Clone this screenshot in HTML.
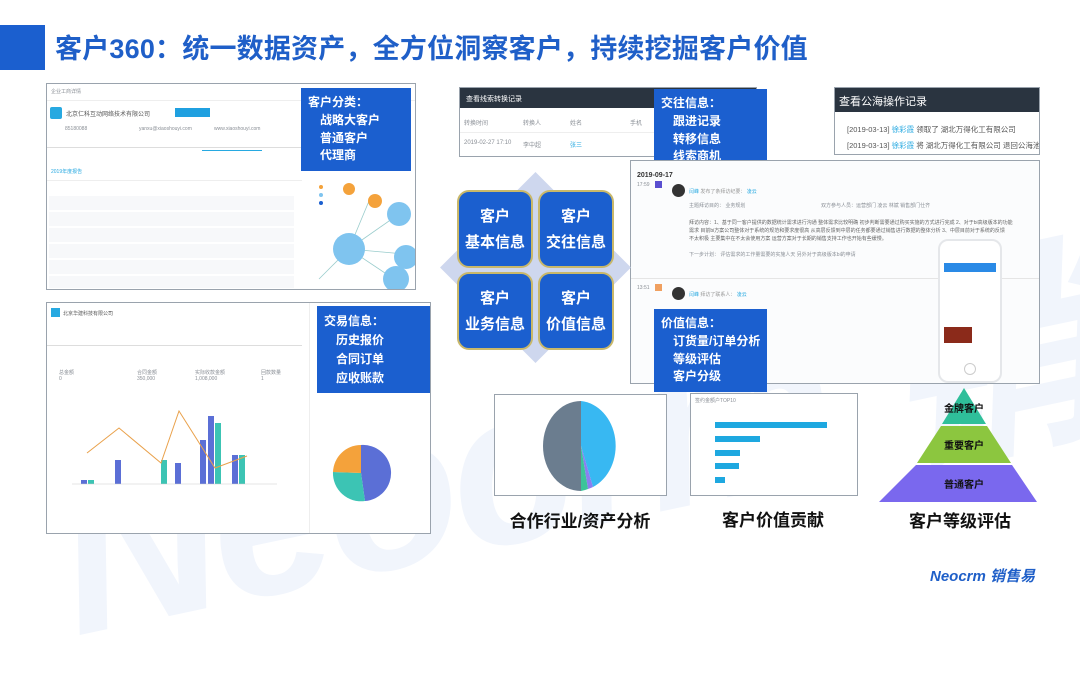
<!DOCTYPE html>
<html><head><meta charset="utf-8"><style>
*{margin:0;padding:0;box-sizing:border-box}
html,body{width:1080px;height:607px}
body{position:relative;overflow:hidden;background:#fff;font-family:"Liberation Sans","Noto Sans CJK SC",sans-serif}
.a{position:absolute}
.panel{position:absolute;background:#fff;border:1px solid #9aa3ad;overflow:hidden}
.blue{position:absolute;background:#1b5fcf;color:#fff;font-weight:bold;font-size:12px;line-height:18px;padding:5px 7px;white-space:nowrap;overflow:hidden}
.blue div{padding-left:12px}
.blue div.h{padding-left:0}
.sm{position:absolute;font-size:5px;color:#8a8f96;white-space:nowrap}
.q{position:absolute;width:76px;height:78px;background:#1b5fcf;border:2px solid #c9b86a;border-radius:12px;color:#fff;font-weight:bold;font-size:15px;text-align:center;line-height:26px;padding-top:12px}
.lbl{position:absolute;font-size:17px;font-weight:bold;color:#111;text-align:center;width:200px}
</style></head><body>
<!-- watermark -->
<div class="a" style="left:40px;top:230px;font-size:220px;font-weight:bold;font-style:italic;color:#f1f5fc;transform:rotate(-12deg);white-space:nowrap;letter-spacing:-6px">Neocrm 销售易</div>

<!-- title -->
<div class="a" style="left:0;top:25px;width:45px;height:45px;background:#1b5fcf"></div>
<div class="a" style="left:55px;top:27px;font-size:27px;font-weight:bold;color:#1f5fc8;white-space:nowrap;letter-spacing:0.2px">客户360：统一数据资产，全方位洞察客户，持续挖掘客户价值</div>

<!-- panel 1 -->
<div class="panel" style="left:46px;top:83px;width:370px;height:207px">
  <div class="sm" style="left:4px;top:4px">企业工商详情</div>
  <div class="a" style="left:0;top:16px;width:370px;height:1px;background:#eee"></div>
  <div class="a" style="left:3px;top:23px;width:12px;height:12px;background:#27a9e1;border-radius:2px"></div>
  <div class="sm" style="left:19px;top:25px;font-size:6px;color:#555">北京仁科互动网络技术有限公司</div>
  <div class="a" style="left:128px;top:24px;width:35px;height:9px;background:#1fa0e0"></div>
  <div class="sm" style="left:18px;top:42px">85180088</div><div class="sm" style="left:92px;top:42px">yanxu@xiaoshouyi.com</div><div class="sm" style="left:167px;top:42px">www.xiaoshouyi.com</div>
  <div class="a" style="left:0;top:63px;width:255px;height:1px;background:#ddd"></div>
  <div class="a" style="left:155px;top:66px;width:60px;height:1px;background:#27a9e1"></div>
  <div class="sm" style="left:4px;top:84px;color:#27a9e1">2019年度报告</div>
  <div class="a" style="left:0;top:96px;width:255px;height:1px;background:#eee"></div>
  <div class="a" style="left:2px;top:112px;width:245px;height:92px;background:repeating-linear-gradient(#f7f8fa 0 14px,#fff 14px 16px)"></div>
  <div class="a" style="left:262px;top:95px;width:108px;height:110px">
    <svg width="108" height="110"><g stroke="#9cc" stroke-width="0.8"><line x1="40" y1="70" x2="60" y2="22"/><line x1="40" y1="70" x2="90" y2="35"/><line x1="40" y1="70" x2="95" y2="75"/><line x1="40" y1="70" x2="85" y2="100"/><line x1="40" y1="70" x2="10" y2="100"/></g>
    <circle cx="40" cy="70" r="16" fill="#7fc4ef"/><circle cx="90" cy="35" r="12" fill="#7fc4ef"/><circle cx="97" cy="78" r="12" fill="#7fc4ef"/><circle cx="87" cy="100" r="13" fill="#7fc4ef"/><circle cx="66" cy="22" r="7" fill="#f4a23b"/><circle cx="40" cy="10" r="6" fill="#f4a23b"/><circle cx="12" cy="8" r="2" fill="#f4a23b"/><circle cx="12" cy="16" r="2" fill="#7fc4ef"/><circle cx="12" cy="24" r="2" fill="#1b5fcf"/></svg>
  </div>
</div>
<div class="blue" style="left:301px;top:88px;width:110px;height:83px"><div class="h">客户分类：</div><div>战略大客户</div><div>普通客户</div><div style="line-height:16px">代理商</div></div>

<!-- panel 2 -->
<div class="panel" style="left:46px;top:302px;width:385px;height:232px">
  <div class="a" style="left:4px;top:5px;width:9px;height:9px;background:#27a9e1"></div>
  <div class="sm" style="left:16px;top:7px;color:#555">北京华建科技有限公司</div>
  <div class="a" style="left:0;top:42px;width:255px;height:1px;background:#ddd"></div>
  <div class="sm" style="left:12px;top:66px">总金额<br>0</div><div class="sm" style="left:90px;top:66px">合同金额<br>350,000</div><div class="sm" style="left:148px;top:66px">实际收款金额<br>1,008,000</div><div class="sm" style="left:214px;top:66px">回款数量<br>1</div>
  <svg class="a" style="left:10px;top:100px" width="240" height="110">
    <g fill="#5b6fd6"><rect x="24" y="77" width="6" height="4"/><rect x="58" y="57" width="6" height="24"/><rect x="118" y="60" width="6" height="21"/><rect x="143" y="37" width="6" height="44"/><rect x="151" y="13" width="6" height="68"/><rect x="175" y="52" width="6" height="29"/></g>
    <g fill="#3cc4b4"><rect x="31" y="77" width="6" height="4"/><rect x="104" y="57" width="6" height="24"/><rect x="158" y="20" width="6" height="61"/><rect x="182" y="52" width="6" height="29"/></g>
    <polyline points="30,50 62,25 104,60 122,8 158,65 190,53" fill="none" stroke="#e9a14b" stroke-width="1"/>
    <line x1="15" y1="81" x2="220" y2="81" stroke="#ccc" stroke-width="0.5"/>
  </svg>
  <div class="a" style="left:262px;top:0;width:1px;height:232px;background:#eee"></div>
  <svg class="a" style="left:280px;top:138px" width="70" height="64"><path d="M34 32 L34 4 A28 28 0 0 1 38 60 Z" fill="#5b6fd6"/><path d="M34 32 L38 60 A28 28 0 0 1 6 31 Z" fill="#3cc4b4"/><path d="M34 32 L6 31 A28 28 0 0 1 34 4 Z" fill="#f4a23b"/></svg>
</div>
<div class="blue" style="left:317px;top:306px;width:113px;height:87px;padding-top:6px;line-height:19px"><div class="h">交易信息：</div><div>历史报价</div><div>合同订单</div><div>应收账款</div></div>

<!-- table panel -->
<div class="panel" style="left:459px;top:87px;width:298px;height:70px">
  <div class="a" style="left:0;top:0;width:298px;height:20px;background:#2a3440"></div>
  <div class="sm" style="left:6px;top:6px;color:#fff;font-size:7px">查看线索转换记录</div>
  <div class="sm" style="left:4px;top:30px;font-size:6px">转换时间</div><div class="sm" style="left:63px;top:30px;font-size:6px">转换人</div><div class="sm" style="left:110px;top:30px;font-size:6px">姓名</div><div class="sm" style="left:170px;top:30px;font-size:6px">手机</div><div class="sm" style="left:268px;top:30px;font-size:6px">市场活动</div>
  <div class="a" style="left:0;top:44px;width:298px;height:1px;background:#eee"></div>
  <div class="sm" style="left:4px;top:52px;font-size:6px">2019-02-27 17:10</div><div class="sm" style="left:63px;top:52px;font-size:6px">李中超</div><div class="sm" style="left:110px;top:52px;font-size:6px;color:#27a9e1">张三</div><div class="sm" style="left:270px;top:52px;font-size:6px;color:#27a9e1">西安展会</div>
</div>
<div class="blue" style="left:654px;top:89px;width:113px;height:82px;padding-top:5px"><div class="h">交往信息：</div><div>跟进记录</div><div>转移信息</div><div style="line-height:16px">线索商机</div></div>

<!-- right op log -->
<div class="panel" style="left:834px;top:87px;width:206px;height:68px">
  <div class="a" style="left:0;top:0;width:206px;height:24px;background:#2a3440"></div>
  <div class="sm" style="left:4px;top:5px;color:#fff;font-size:11px">查看公海操作记录</div>
  <div class="sm" style="left:12px;top:36px;font-size:7.5px;color:#555">[2019-03-13] <span style="color:#27a9e1">徐彩霞</span> 领取了 湖北万得化工有限公司</div>
  <div class="sm" style="left:12px;top:52px;font-size:7.5px;color:#555">[2019-03-13] <span style="color:#27a9e1">徐彩霞</span> 将 湖北万得化工有限公司 退回公海池</div>
</div>

<!-- big panel -->
<div class="panel" style="left:630px;top:160px;width:410px;height:224px;background:#fbfcfd">
  <div class="sm" style="left:6px;top:11px;font-size:7px;color:#333;font-weight:bold">2019-09-17</div>
  <div class="sm" style="left:6px;top:21px">17:59</div><div class="a" style="left:24px;top:20px;width:7px;height:7px;background:#5a4fd0"></div>
  <div class="a" style="left:41px;top:23px;width:13px;height:13px;border-radius:50%;background:#333"></div>
  <div class="sm" style="left:58px;top:27px;color:#27a9e1">闫峰 <span style="color:#999">发布了条拜访纪要：</span> 凌云</div>
  <div class="sm" style="left:58px;top:41px">主题拜访目的： 业务规划</div><div class="sm" style="left:190px;top:41px">双方参与人员：运营部门 凌云 林斌 销售部门仕齐</div>
  <div class="sm" style="left:58px;top:58px;line-height:8px;color:#666">拜访内容：1、基于同一客户提供的数据统计需求进行沟通 整体需求比较明确 初步判断需要通过购买实施的方式进行完成 2、对于bi高级版本的功能<br>需求 目前bi方案公司整体对于系统的规范和要求度很高 从高层反馈到中层的任务都要通过销售进行数据的整体分析 3、中层目前对于系统的反馈<br>不太积极 主要集中在不太会使用方案 运营方案对于长期的销售支持工作也开始有些缓慢。</div>
  <div class="sm" style="left:58px;top:90px">下一步计划： 评估需求的工作量需要的实施人天 另外对于高级版本bi的申请</div>
  <div class="a" style="left:0;top:117px;width:410px;height:1px;background:#e5e5e5"></div>
  <div class="sm" style="left:6px;top:124px">13:51</div><div class="a" style="left:24px;top:123px;width:7px;height:7px;background:#f0a060"></div>
  <div class="a" style="left:41px;top:126px;width:13px;height:13px;border-radius:50%;background:#333"></div>
  <div class="sm" style="left:58px;top:130px;color:#27a9e1">闫峰 <span style="color:#999">拜访了联系人：</span> 凌云</div>
  <div class="a" style="left:307px;top:78px;width:64px;height:144px;border:2px solid #e5e7ea;border-radius:10px;background:#fff"></div>
  <div class="a" style="left:313px;top:102px;width:52px;height:9px;background:#2a8ae6"></div>
  <div class="a" style="left:313px;top:166px;width:28px;height:16px;background:#8b2a1a"></div>
  <div class="a" style="left:333px;top:202px;width:12px;height:12px;border:1px solid #ccc;border-radius:50%"></div>
</div>
<div class="blue" style="left:654px;top:309px;width:113px;height:83px;padding-top:5px"><div class="h">价值信息：</div><div>订货量/订单分析</div><div>等级评估</div><div style="line-height:16px">客户分级</div></div>

<!-- diamond + quads -->
<div class="a" style="left:468px;top:200px;width:135px;height:135px;background:#c9d3ec;transform:rotate(45deg);opacity:0.9"></div>
<div class="q" style="left:457px;top:190px">客户<br>基本信息</div>
<div class="q" style="left:538px;top:190px">客户<br>交往信息</div>
<div class="q" style="left:457px;top:272px">客户<br>业务信息</div>
<div class="q" style="left:538px;top:272px">客户<br>价值信息</div>

<!-- pie panel -->
<div class="panel" style="left:494px;top:394px;width:173px;height:102px">
  <svg width="173" height="102"><path d="M86 51 L86 6 A38 45 0 0 1 98 92 Z" fill="#38b8f2"/><path d="M86 51 L98 92 A38 45 0 0 1 93 94 Z" fill="#8a7ff0"/><path d="M86 51 L93 94 A38 45 0 0 1 86 96 Z" fill="#3cc49a"/><path d="M86 51 L86 96 A38 45 0 0 1 86 6 Z" fill="#6b7d8f"/></svg>
</div>
<!-- bar panel -->
<div class="panel" style="left:690px;top:393px;width:168px;height:103px">
  <div class="sm" style="left:4px;top:3px">签约金额户TOP10</div>
  <div class="a" style="left:24px;top:28px;width:112px;height:6px;background:#1ea8e0"></div>
  <div class="a" style="left:24px;top:42px;width:45px;height:6px;background:#1ea8e0"></div>
  <div class="a" style="left:24px;top:56px;width:25px;height:6px;background:#1ea8e0"></div>
  <div class="a" style="left:24px;top:69px;width:24px;height:6px;background:#1ea8e0"></div>
  <div class="a" style="left:24px;top:83px;width:10px;height:6px;background:#1ea8e0"></div>
</div>
<!-- pyramid -->
<svg class="a" style="left:875px;top:386px" width="170" height="118">
  <polygon points="89,2 111,38 67,38" fill="#2fbf9a"/>
  <polygon points="66,40 112,40 136,77 42,77" fill="#8cc63f"/>
  <polygon points="41,79 137,79 162,116 4,116" fill="#7a68ee"/>
  <text x="89" y="26" font-size="10" font-weight="bold" text-anchor="middle" fill="#111" font-family="Liberation Sans,Noto Sans CJK SC,sans-serif">金牌客户</text>
  <text x="89" y="63" font-size="10" font-weight="bold" text-anchor="middle" fill="#111" font-family="Liberation Sans,Noto Sans CJK SC,sans-serif">重要客户</text>
  <text x="89" y="102" font-size="10" font-weight="bold" text-anchor="middle" fill="#111" font-family="Liberation Sans,Noto Sans CJK SC,sans-serif">普通客户</text>
</svg>

<div class="lbl" style="left:480px;top:507px">合作行业/资产分析</div>
<div class="lbl" style="left:673px;top:506px">客户价值贡献</div>
<div class="lbl" style="left:860px;top:507px">客户等级评估</div>

<div class="a" style="left:930px;top:565px;font-size:15px;font-weight:bold;font-style:italic;color:#1f5fc8;white-space:nowrap">Neocrm 销售易</div>
</body></html>
